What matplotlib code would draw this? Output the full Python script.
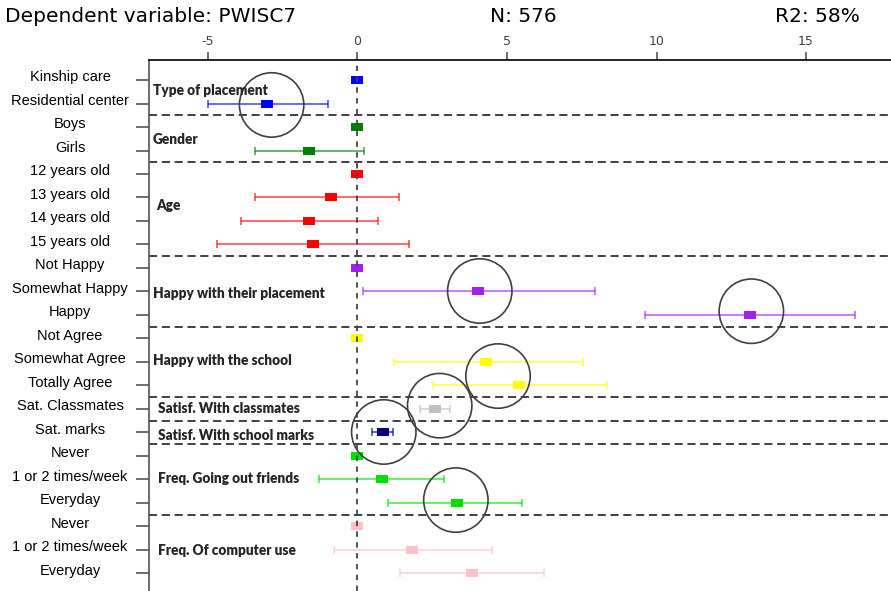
import numpy as np
import matplotlib
matplotlib.use("Agg")
import matplotlib.pyplot as plt
from matplotlib.transforms import ScaledTranslation

plt.rcParams['axes.unicode_minus'] = False

nan = np.nan
labels = ["Kinship care", "Residential center", "Boys", "Girls",
          "12 years old", "13 years old", "14 years old", "15 years old",
          "Not Happy", "Somewhat Happy", "Happy",
          "Not Agree", "Somewhat Agree", "Totally Agree",
          "Sat. Classmates", "Sat. marks",
          "Never", "1 or 2 times/week", "Everyday",
          "Never", "1 or 2 times/week", "Everyday"]
estimates = [0, -3.04, 0, -1.61, 0, -0.90, -1.61, -1.50, 0, 4.02, 13.12,
             0, 4.31, 5.40, 2.60, 0.87, 0, 0.81, 3.32, 0, 1.81, 3.82]
lower = [nan, -5.00, nan, -3.42, nan, -3.42, -3.91, -4.70, nan, 0.19, 9.63,
         nan, 1.21, 2.52, 2.10, 0.48, nan, -1.30, 1.01, nan, -0.80, 1.41]
upper = [nan, -0.98, nan, 0.22, nan, 1.40, 0.70, 1.71, nan, 7.95, 16.63,
         nan, 7.54, 8.33, 3.09, 1.19, nan, 2.90, 5.51, nan, 4.51, 6.23]

group_names = ["Type of placement", "Gender", "Age", "Happy with their placement",
               "Happy with the school", "Satisf. With classmates",
               "Satisf. With school marks", "Freq. Going out friends",
               "Freq. Of computer use"]
group_sizes = [2, 2, 4, 3, 3, 1, 1, 3, 3]
group_colors = ['#0000FF', '#008000', '#FF0000', '#A020F0', '#FFFF00',
                '#C0C0C0', '#000080', '#00E000', '#FFC0CB']
group_label_x = [-6.84, -6.84, -6.74, -6.84, -6.84, -6.67, -6.67, -6.67, -6.67]
group_label_y = [0.45, 2.51, 5.32, 9.1, 11.93, 14.0, 15.11, 16.96, 20.02]

circle_x = [-2.87, 4.09, 13.17, 4.70, 2.75, 0.88, 3.29]
circle_y = [1.06, 8.98, 9.84, 12.6, 13.86, 14.98, 17.88]

xticks = [-5, 0, 5, 10, 15]

fig = plt.figure(figsize=(8.91, 5.91), dpi=100)
ax = fig.add_axes([149/891, 0, 1 - 149/891, (591 - 60.3)/591])
ax.set_xlim(-6.97, 17.84)
ax.set_ylim(21.75, -0.84)

rows = np.arange(len(labels))
colors = []
for c, n in zip(group_colors, group_sizes):
    colors += [c] * n

rect = [(-1, -0.66), (1, -0.66), (1, 0.66), (-1, 0.66), (-1, -0.66)]

# separators
bounds = np.cumsum(group_sizes)[:-1] - 0.5
for b in bounds:
    ax.axhline(b, color='#333333', lw=1.3, ls=(0, (4.5, 2.6)), zorder=1)

for i in rows:
    est = estimates[i]
    if not np.isnan(lower[i]):
        ax.errorbar([est], [i], xerr=[[est - lower[i]], [upper[i] - est]], fmt='none',
                    ecolor=colors[i], elinewidth=1.1, capsize=2.6, capthick=1.1,
                    alpha=0.75, zorder=2)
    ax.plot([est], [i], marker=rect, markersize=8.8, color=colors[i], mew=0,
            ls='none', zorder=3)

ax.axvline(0, color='#444444', lw=1.3, ls=(0, (3, 3)), zorder=4)

ax.scatter(circle_x, circle_y, s=2150, facecolors='none', edgecolors='#404040',
           linewidths=1.2, zorder=5)

for name, gx, gy in zip(group_names, group_label_x, group_label_y):
    ax.text(gx, gy, name, fontfamily='Lato', fontweight='heavy', fontsize=9.8,
            color='#262626', va='center', ha='left', zorder=6)

# y ticks
ax.set_yticks(rows)
ax.set_yticklabels(labels, fontfamily='Liberation Sans', fontsize=10.5, ha='center',
                   color='black')
ax.tick_params(axis='y', length=9.4, width=1.2, color='#555555', pad=47.5)
offset = ScaledTranslation(0, 3/72, fig.dpi_scale_trans)
for lab in ax.get_yticklabels():
    lab.set_transform(lab.get_transform() + offset)

# x ticks on top
ax.xaxis.tick_top()
ax.set_xticks(xticks)
ax.set_xticklabels([str(t) for t in xticks], fontfamily='DejaVu Sans', fontsize=9,
                   color='#404040')
ax.tick_params(axis='x', length=5.8, width=1.2, color='#555555', pad=3.0)

for s in ['right', 'bottom']:
    ax.spines[s].set_visible(False)
ax.spines['top'].set_color('black')
ax.spines['top'].set_linewidth(1.2)
ax.spines['left'].set_color('#555555')
ax.spines['left'].set_linewidth(1.2)

fig.text(5/891, 1 - 17/591, "Dependent variable: PWISC7", fontsize=14.5,
         fontfamily='DejaVu Sans', va='center', ha='left')
fig.text(523.5/891, 1 - 17/591, "N: 576", fontsize=14.5,
         fontfamily='DejaVu Sans', va='center', ha='center')
fig.text(817.5/891, 1 - 17/591, "R2: 58%", fontsize=14.5,
         fontfamily='DejaVu Sans', va='center', ha='center')

fig.savefig("out.png", dpi=100)
